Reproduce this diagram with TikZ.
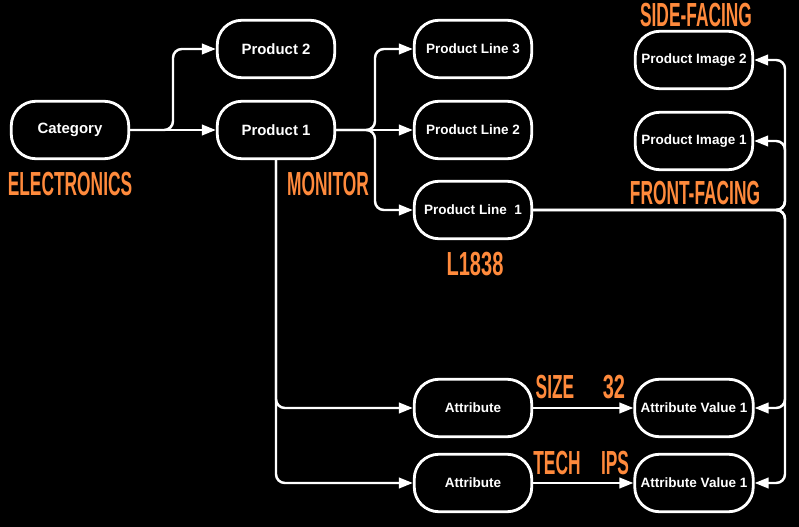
\documentclass[tikz,border=0pt]{standalone}
\usepackage{fontspec}
\setmainfont{Liberation Sans}
\usetikzlibrary{arrows.meta}
\definecolor{lblorange}{HTML}{FF8A3C}
\newcommand{\lbltext}[1]{\scalebox{0.52}[1]{#1}}

\begin{document}
\begin{tikzpicture}[x=0.02cm, y=-0.02cm,
	box/.style={draw=white, line width=1.6pt, rounded corners=14pt, minimum width=2.35cm, minimum height=1.15cm, text=white, font=\bfseries\fontsize{8.5}{10}\selectfont},
	smallbox/.style={box, font=\bfseries\fontsize{7.7}{9}\selectfont},
	lbl/.style={text=lblorange, font=\bfseries\fontsize{19}{19}\selectfont, inner sep=0pt},
	link/.style={draw=white, line width=1.4pt, rounded corners=5pt, -{Triangle[length=8pt, width=6pt]}}]
	\fill[black] (0,0) rectangle (799,527);
	% boxes
	\node[box] (cat) at (70,130) {Category};
	\node[box] (prod2) at (276,49) {Product 2};
	\node[box] (prod1) at (276,130) {Product 1};
	\node[smallbox] (line3) at (473,49) {Product Line 3};
	\node[smallbox] (line2) at (473,130) {Product Line 2};
	\node[smallbox] (line1) at (473,210) {Product Line\ \ 1};
	\node[smallbox] (img2) at (694,60) {Product Image 2};
	\node[smallbox] (img1) at (694,141) {Product Image 1};
	\node[smallbox] (attr1) at (473,408) {Attribute};
	\node[smallbox] (val1) at (694,408) {Attribute Value 1};
	\node[smallbox] (attr2) at (473,483) {Attribute};
	\node[smallbox] (val2) at (694,483) {Attribute Value 1};
	% labels
	\node[lbl] (electronics) at (70,184) {\lbltext{ELECTRONICS}};
	\node[lbl] (monitor) at (328,184) {\lbltext{MONITOR}};
	\node[lbl] (model) at (475,264) {\scalebox{0.6}[1]{L1838}};
	\node[lbl] (side) at (696,15) {\lbltext{SIDE-FACING}};
	\node[lbl] (front) at (695,193) {\lbltext{FRONT-FACING}};
	\node[lbl] (size) at (555,387) {\lbltext{SIZE}};
	\node[lbl] (sizeval) at (614,387) {\scalebox{0.6}[1]{32}};
	\node[lbl] (tech) at (557,463) {\lbltext{TECH}};
	\node[lbl] (techval) at (615,463) {\lbltext{IPS}};
	% connectors
	\coordinate (catsplit) at (173,130);
	\coordinate (prodsplit) at (375,130);
	\coordinate (imgsplit) at (785,210);
	\draw[link] (cat) -- (prod1);
	\draw[link] (cat.east) -- (catsplit) |- (prod2.west);
	\draw[link] (prod1) -- (line2);
	\draw[link] (prod1.east) -- (prodsplit) |- (line3.west);
	\draw[link] (prod1.east) -- (prodsplit) |- (line1.west);
	\draw[link] (prod1.south) |- (attr1.west);
	\draw[link] (prod1.south) |- (attr2.west);
	\draw[link] (attr1) -- (val1);
	\draw[link] (attr2) -- (val2);
	\draw[link] (line1.east) -- (imgsplit) |- (img2.east);
	\draw[link] (line1.east) -- (imgsplit) |- (img1.east);
	\draw[link] (line1.east) -- (imgsplit) |- (val1.east);
	\draw[link] (line1.east) -- (imgsplit) |- (val2.east);
\end{tikzpicture}
\end{document}
